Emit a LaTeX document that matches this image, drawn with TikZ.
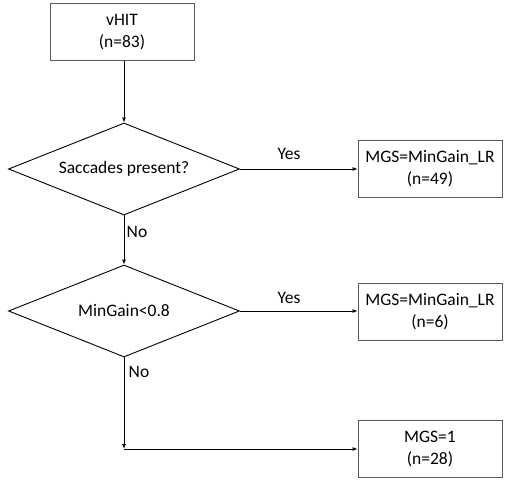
\documentclass[tikz,border=0pt]{standalone}
\usepackage{fontspec}
\setmainfont{Carlito}
\usetikzlibrary{shapes.geometric,arrows.meta}
\begin{document}
\begin{tikzpicture}[x=1pt,y=1pt]
    \tikzstyle{every node}+=[font=\fontsize{17.5}{22}\selectfont]
    \tikzstyle{stepbox}=[draw=black!65,line width=0.8pt,minimum width=144pt,minimum height=57pt,align=center,inner sep=0pt]
    \tikzstyle{choice}=[draw=black,line width=0.9pt,shape=diamond,aspect=2.5,minimum width=231pt,minimum height=92pt,inner sep=0pt]
    \tikzstyle{arr}=[draw=black,line width=0.9pt,-{Latex[length=5pt,width=4pt]}]
    \useasboundingbox (0,0) rectangle (510,-481);
    \node [stepbox] (vhit) at (122,-32) {vHIT\\(n=83)};
    \node [choice] (sacc) at (124,-169) {Saccades present?};
    \node [choice] (gain) at (124,-311) {MinGain<0.8};
    \node [stepbox] (mgsa) at (430,-169) {MGS=MinGain\_LR\\(n=49)};
    \node [stepbox] (mgsb) at (430,-312) {MGS=MinGain\_LR\\(n=6)};
    \node [stepbox] (mgsc) at (430,-449) {MGS=1\\(n=28)};
    \coordinate (turn) at (124,-449);
    \draw [arr] (vhit.south -| sacc.north) -- (sacc.north);
    \draw [arr] (sacc.east) -- (mgsa.west);
    \draw [arr] (sacc.south) -- (gain.north);
    \draw [arr] (gain.east) -- (gain.east -| mgsb.west);
    \draw [arr] (gain.south) -- (turn);
    \draw [arr] (turn) -- (mgsc.west);
    \node (yesa) at (289,-154) {Yes};
    \node (noa) at (137,-232) {No};
    \node (yesb) at (289,-298) {Yes};
    \node (nob) at (139,-372) {No};
\end{tikzpicture}
\end{document}
